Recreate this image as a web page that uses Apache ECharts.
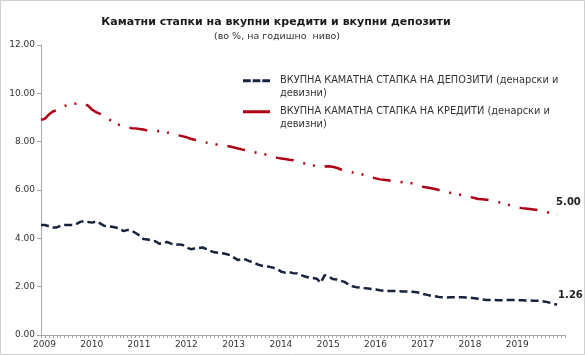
<!DOCTYPE html>
<html>
<head>
<meta charset="utf-8">
<script src="https://cdn.jsdelivr.net/npm/echarts@6/dist/echarts.min.js"></script>
<style>
html,body{margin:0;padding:0;background:#fff;}
#chart{width:585px;height:355px;}
</style>
</head>
<body>
<div id="chart"></div>
<script>
// Monthly categories Jan 2009 – Feb 2020 (axis runs two months past the data)
const startYear = 2009;
const categories = [];
for (let i = 0; i < 134; i++) {
  const y = startYear + Math.floor(i / 12);
  const m = (i % 12) + 1;
  categories.push(y + '-' + (m < 10 ? '0' + m : m));
}
const yearLabels = ['2009','2010','2011','2012','2013','2014','2015','2016','2017','2018','2019'];
const yTicks = [0, 2, 4, 6, 8, 10, 12];

const depositName = 'ВКУПНА КАМАТНА СТАПКА НА ДЕПОЗИТИ (денарски и девизни)';
const creditName = 'ВКУПНА КАМАТНА СТАПКА НА КРЕДИТИ (денарски и девизни)';

const depositRates = [
  4.55,4.55,4.50,4.45,4.45,4.52,4.55,4.55,4.55,4.60,4.68,4.72,
  4.68,4.65,4.70,4.62,4.52,4.50,4.48,4.45,4.38,4.30,4.35,4.32,
  4.22,4.12,3.97,3.95,3.92,3.88,3.78,3.80,3.85,3.78,3.72,3.75,
  3.72,3.62,3.55,3.58,3.60,3.62,3.55,3.48,3.42,3.40,3.38,3.35,
  3.30,3.20,3.10,3.15,3.12,3.05,3.00,2.92,2.87,2.85,2.82,2.78,
  2.72,2.62,2.58,2.60,2.56,2.55,2.48,2.42,2.38,2.36,2.33,2.16,
  2.48,2.42,2.32,2.30,2.25,2.20,2.10,2.02,1.98,1.96,1.94,1.92,
  1.90,1.88,1.85,1.83,1.82,1.82,1.82,1.81,1.80,1.80,1.79,1.78,
  1.75,1.70,1.66,1.62,1.60,1.57,1.56,1.55,1.56,1.56,1.56,1.56,
  1.55,1.54,1.52,1.50,1.47,1.45,1.45,1.45,1.44,1.44,1.45,1.45,
  1.45,1.44,1.44,1.43,1.43,1.42,1.42,1.40,1.38,1.34,1.28,1.26
];
const creditRates = [
  8.90,8.95,9.12,9.25,9.30,9.42,9.48,9.52,9.55,9.58,9.60,9.58,
  9.48,9.32,9.22,9.15,9.08,8.95,8.85,8.75,8.68,8.62,8.58,8.56,
  8.55,8.52,8.50,8.46,8.44,8.43,8.44,8.42,8.38,8.35,8.30,8.26,
  8.22,8.18,8.12,8.08,8.06,8.02,7.96,7.92,7.90,7.87,7.85,7.83,
  7.80,7.76,7.72,7.68,7.65,7.62,7.57,7.53,7.50,7.47,7.44,7.38,
  7.33,7.30,7.28,7.25,7.23,7.18,7.12,7.10,7.06,7.02,6.98,6.93,
  6.97,6.98,6.96,6.92,6.86,6.80,6.76,6.73,6.70,6.68,6.62,6.56,
  6.52,6.48,6.44,6.42,6.40,6.38,6.36,6.34,6.32,6.30,6.28,6.22,
  6.16,6.13,6.10,6.07,6.04,6.00,5.96,5.92,5.88,5.85,5.82,5.79,
  5.75,5.71,5.67,5.63,5.62,5.60,5.57,5.53,5.50,5.47,5.42,5.37,
  5.33,5.29,5.25,5.23,5.21,5.19,5.17,5.13,5.10,5.06,5.03,5.00
];

const FONT = 'DejaVu Sans';
const NAVY = '#16233f';
const RED = '#b00012';
const chart = echarts.init(document.getElementById('chart'), null, {renderer: 'canvas'});

const option = {
  backgroundColor: '#ffffff',
  animation: false,
  textStyle: {fontFamily: FONT},
  title: [
    {
      text: 'Каматни стапки на вкупни кредити и вкупни депозити',
      left: 271, top: 12, textAlign: 'center',
      textStyle: {fontFamily: FONT, fontSize: 11, fontWeight: 'bold', color: '#1a1a1a'}
    },
    {
      text: '(во %, на годишно  ниво)',
      left: 272, top: 27, textAlign: 'center',
      textStyle: {fontFamily: FONT, fontSize: 9.5, fontWeight: 'normal', color: '#333'}
    }
  ],
  graphic: [{
    type: 'rect', silent: true, z: -1,
    shape: {x: 0.5, y: 0.5, width: 584, height: 354},
    style: {fill: null, stroke: '#d0d0d0', lineWidth: 1}
  }],
  legend: {
    orient: 'vertical',
    left: 238, top: 69,
    itemWidth: 27, itemHeight: 16,
    itemGap: 5,
    formatter: function (name) {
      return name === depositName
        ? 'ВКУПНА КАМАТНА СТАПКА НА ДЕПОЗИТИ (денарски и\nдевизни)'
        : 'ВКУПНА КАМАТНА СТАПКА НА КРЕДИТИ (денарски и\nдевизни)';
    },
    textStyle: {fontFamily: FONT, fontSize: 9.8, color: '#333', lineHeight: 13, padding: [0, 0, 0, 5]},
    data: [
      {name: depositName, icon: 'path://M0,0h8v3h-8zM10,0h8v3h-8zM20,0h8v3h-8zM27.95,15.95h0.05v0.05h-0.05z', itemStyle: {color: NAVY}},
      {name: creditName, icon: 'path://M0,0h28v3h-28zM27.95,15.95h0.05v0.05h-0.05z', itemStyle: {color: RED}}
    ]
  },
  grid: {left: 41, right: 20, top: 45, bottom: 20, containLabel: false},
  xAxis: {
    type: 'category',
    data: categories,
    boundaryGap: false,
    axisLine: {show: true, lineStyle: {color: '#a6a6a6', width: 1}},
    axisTick: {show: true, interval: 0, length: 3, lineStyle: {color: '#a6a6a6'}},
    axisLabel: {
      interval: function (idx, v) { return idx % 12 === 0 && yearLabels.indexOf(v.slice(0, 4)) >= 0; },
      formatter: function (v) { return v.slice(0, 4); },
      fontFamily: FONT, fontSize: 9, color: '#333', margin: 5, padding: [0, 0, 0, 7]
    },
    splitLine: {show: false}
  },
  yAxis: {
    type: 'value',
    min: yTicks[0], max: yTicks[yTicks.length - 1], interval: 2,
    axisLine: {show: true, lineStyle: {color: '#a6a6a6', width: 1}},
    axisTick: {show: true, length: 4, lineStyle: {color: '#a6a6a6'}},
    axisLabel: {
      formatter: function (v) { return v.toFixed(2); },
      fontFamily: FONT, fontSize: 9, color: '#333', margin: 6
    },
    splitLine: {show: false}
  },
  series: [
    {
      name: depositName,
      type: 'line',
      data: depositRates,
      symbol: 'none',
      smooth: false,
      lineStyle: {color: NAVY, width: 2.5, type: [8, 4], cap: 'butt'},
      itemStyle: {color: NAVY},
      endLabel: {
        show: true,
        formatter: function (p) { return p.value.toFixed(2); },
        fontFamily: FONT, fontSize: 10, fontWeight: 'bold', color: '#222',
        offset: [-7, -9]
      }
    },
    {
      name: creditName,
      type: 'line',
      data: creditRates,
      symbol: 'none',
      smooth: false,
      lineStyle: {color: RED, width: 2.5, type: [18, 10, 2, 8, 2, 10], cap: 'butt'},
      itemStyle: {color: RED},
      endLabel: {
        show: true,
        formatter: function (p) { return p.value.toFixed(2); },
        fontFamily: FONT, fontSize: 10, fontWeight: 'bold', color: '#222',
        offset: [-9, -12]
      }
    }
  ]
};
chart.setOption(option);
</script>
</body>
</html>
